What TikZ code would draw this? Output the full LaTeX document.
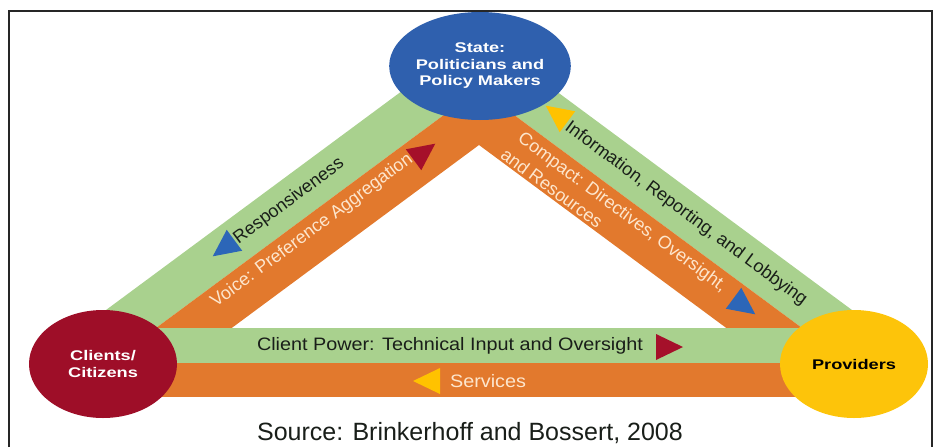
\documentclass[tikz,border=0pt]{standalone}
\usepackage{fontspec}
\setmainfont{Liberation Sans}
\usetikzlibrary{shapes.geometric}
\definecolor{bandgreen}{RGB}{169,209,142}
\definecolor{bandorange}{RGB}{226,121,45}
\definecolor{stateblue}{RGB}{47,96,174}
\definecolor{clientred}{RGB}{158,14,40}
\definecolor{provyellow}{RGB}{253,196,10}
\definecolor{headred}{RGB}{165,16,42}
\definecolor{headblue}{RGB}{44,102,184}
\definecolor{headyellow}{RGB}{255,194,0}
\definecolor{lighttext}{RGB}{253,230,205}
\definecolor{darktext}{RGB}{25,30,25}
\begin{document}
\begin{tikzpicture}[x=1pt,y=-1pt,
  actor/.style={ellipse, minimum width=148pt, minimum height=108pt, inner sep=0pt,
    font=\fontsize{14}{16.5}\selectfont\bfseries, align=center},
  bandlabel/.style={font=\fontsize{18}{21}\selectfont, inner sep=0pt},
  sourcelabel/.style={font=\fontsize{25}{30}\selectfont, inner sep=0pt, text=darktext}
]
\useasboundingbox (0,0) rectangle (941,447);
% frame
\draw[line width=2pt, black!85] (9,447) -- (9,11) -- (932,11) -- (932,447);
% band geometry
\coordinate (gL) at (81.7,328);  \coordinate (gA) at (479,34);  \coordinate (gR) at (876.3,328);
\coordinate (bL) at (156,328);   \coordinate (bA) at (479,89);  \coordinate (bR) at (802,328);
\coordinate (iL) at (231.7,328); \coordinate (iA) at (479,145); \coordinate (iR) at (726.3,328);
\coordinate (gbTL) at (103,328); \coordinate (gbBR) at (854,363);
\coordinate (obTL) at (103,363); \coordinate (obBR) at (854,397);
\fill[bandgreen] (gL) -- (gA) -- (gR) -- (bR) -- (bA) -- (bL) -- cycle;
\fill[bandorange] (bL) -- (bA) -- (bR) -- (iR) -- (iA) -- (iL) -- cycle;
\fill[bandgreen] (gbTL) rectangle (gbBR);
\fill[bandorange] (obTL) rectangle (obBR);
% arrowheads
\fill[headblue, shift={(224,248)}, rotate=216.5] (14,0) -- (-13,13) -- (-13,-13) -- cycle;
\fill[headred, shift={(424,152)}, rotate=36.5] (14,0) -- (-13,13) -- (-13,-13) -- cycle;
\fill[headyellow, shift={(557,114)}, rotate=143.5] (14,0) -- (-13,13) -- (-13,-13) -- cycle;
\fill[headblue, shift={(744,306)}, rotate=-36.5] (14,0) -- (-13,13) -- (-13,-13) -- cycle;
\fill[headred, shift={(669,347)}] (14,0) -- (-13,13) -- (-13,-13) -- cycle;
\fill[headyellow, shift={(427,381)}, rotate=180] (14,0) -- (-13,13) -- (-13,-13) -- cycle;
% actors
\node[actor, fill=stateblue, text=white] (state) at (480,66)
  {\scalebox{1.3}[1]{State:}\\\scalebox{1.3}[1]{Politicians and}\\\scalebox{1.3}[1]{Policy Makers}};
\node[actor, fill=clientred, text=white] (clients) at (103,364)
  {\scalebox{1.3}[1]{Clients/}\\\scalebox{1.3}[1]{Citizens}};
\node[actor, fill=provyellow, text=black] (providers) at (854,364)
  {\scalebox{1.3}[1]{Providers}};
% band labels
\node[bandlabel, text=darktext, rotate=36.5] (resp) at (289,201) {Responsiveness};
\node[bandlabel, text=lighttext, rotate=36.5] (voice) at (312,231) {Voice: Preference Aggregation};
\node[bandlabel, text=darktext, rotate=-36.5] (info) at (686,214) {Information, Reporting, and Lobbying};
\node[bandlabel, text=lighttext, rotate=-36.5] (compacta) at (622,213) {Compact: Directives, Oversight,};
\node[bandlabel, text=lighttext, rotate=-36.5] (compactb) at (552,188) {and Resources};
\node[bandlabel, text=darktext] (power) at (450,346) {\scalebox{1.1}[1]{Client Power: Technical Input and Oversight}};
\node[bandlabel, text=lighttext] (services) at (488,381) {\scalebox{1.1}[1]{Services}};
\node[sourcelabel] (source) at (470,433) {Source: Brinkerhoff and Bossert, 2008};
\end{tikzpicture}
\end{document}
